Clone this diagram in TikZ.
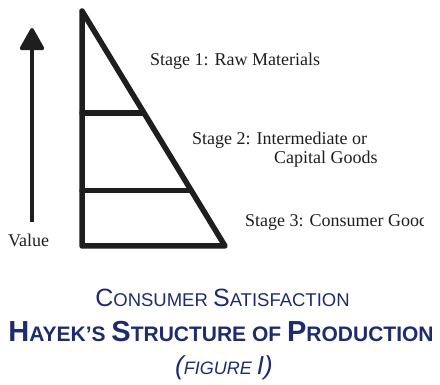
\documentclass[tikz,border=0pt]{standalone}
\usepackage{fontspec}
\setmainfont{Liberation Serif}
\newfontfamily\titlefont{Liberation Sans}
\usetikzlibrary{arrows.meta}
\definecolor{navy}{RGB}{30,44,110}
\definecolor{ink}{RGB}{30,30,30}
\newcommand\fsz[2]{{\fontsize{#1}{#1}\selectfont #2}}
\tikzset{
  frame/.style={draw=ink, line width=5.5pt, line join=round, line cap=round},
  stagetext/.style={anchor=base west, inner sep=0pt, font=\fontsize{18}{18}\selectfont, text=ink},
  titletext/.style={anchor=base, inner sep=0pt, text=navy},
  valuearrow/.style={draw=ink, line width=3.5pt, -{Triangle[width=26pt,length=24pt,round]}}
}
\begin{document}
\begin{tikzpicture}[x=1pt,y=-1pt]
\useasboundingbox (0,0) rectangle (440,385);
% triangle corners
\coordinate (apex) at (82,11);
\coordinate (bl) at (82,246);
\coordinate (br) at (225,246);
\coordinate (l1) at (82,113);
\coordinate (r1) at (143.7,113);
\coordinate (l2) at (82,190.5);
\coordinate (r2) at (191,190.5);
\draw[frame] (apex) -- (bl) -- (br) -- cycle;
\draw[frame] (l1) -- (r1);
\draw[frame] (l2) -- (r2);
% value arrow
\coordinate (vbot) at (32,222);
\coordinate (vtop) at (32,28);
\draw[valuearrow] (vbot) -- (vtop);
\node[stagetext] (value) at (8,247) {Value};
% stage labels
\node[stagetext] (s1) at (150,66) {Stage 1: Raw Materials};
\node[stagetext] (s2a) at (192,145) {Stage 2: Intermediate or};
\node[stagetext] (s2b) at (274,164) {Capital Goods};
\begin{scope}
\clip (0,0) rectangle (423.5,385);
\node[stagetext] (s3) at (245,227) {Stage 3: Consumer Goods};
\end{scope}
% titles
\node[titletext, font=\titlefont] (t1) at (222.5,307)
  {\fsz{25}{C}\fsz{18.5}{ONSUMER }\fsz{25}{S}\fsz{18.5}{ATISFACTION}};
\node[titletext, font=\titlefont\bfseries] (t2) at (221,342)
  {\fsz{29}{H}\fsz{21}{AYEK’S }\fsz{29}{S}\fsz{21}{TRUCTURE OF }\fsz{29}{P}\fsz{21}{RODUCTION}};
\node[titletext, font=\titlefont\itshape] (t3) at (224,374)
  {\fsz{26}{(}\fsz{18}{FIGURE }\fsz{26}{I)}};
\end{tikzpicture}
\end{document}
